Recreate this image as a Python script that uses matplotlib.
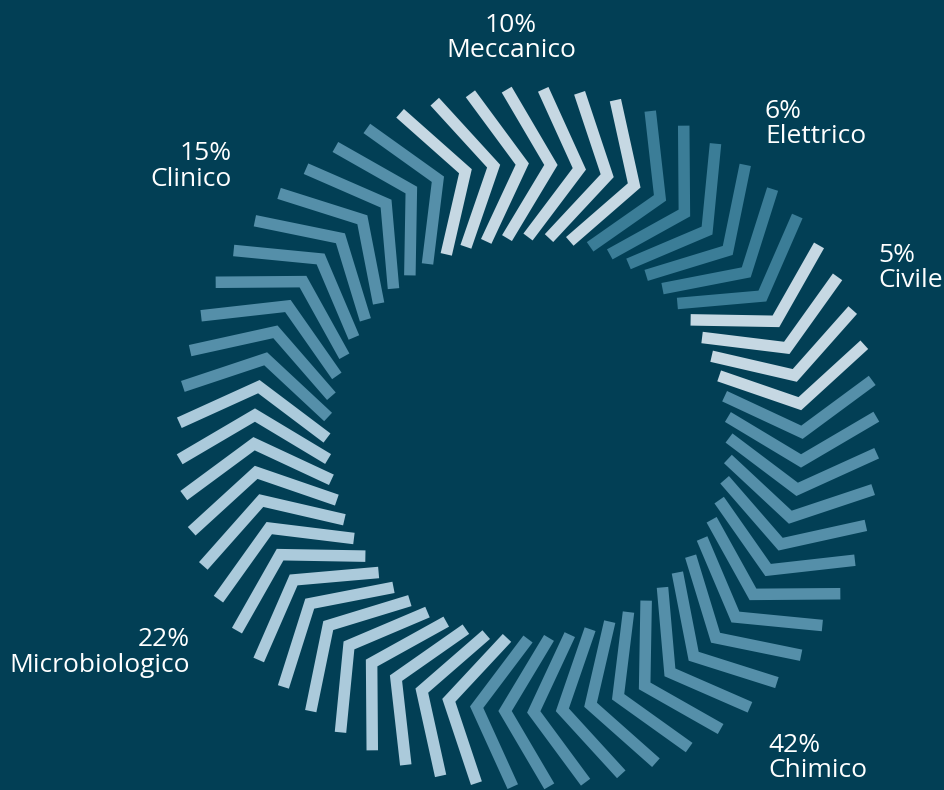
import numpy as np
import matplotlib
matplotlib.use("Agg")
import matplotlib.pyplot as plt
from matplotlib.lines import Line2D

# Sector data
sectors = ["Meccanico", "Elettrico", "Civile", "Chimico", "Microbiologico", "Clinico"]
shares = [10, 6, 5, 42, 22, 15]
chevron_counts = [7, 6, 4, 18, 15, 10]
sector_colors = ["#c6d8e3", "#3b7d97", "#c6d8e3", "#558fa9", "#abcadb", "#558fa9"]

BG = "#023f55"
W, H, DPI = 944, 790, 100
cx, cy = 528, 438  # ring centre in pixels (from top-left)

fig = plt.figure(figsize=(W / DPI, H / DPI), dpi=DPI, facecolor=BG)
ax = fig.add_axes([0, 0, 1, 1])
ax.set_facecolor(BG)
ax.set_xlim(-cx, W - cx)
ax.set_ylim(-(H - cy), cy)
ax.set_aspect("equal")
ax.axis("off")

# Chevron geometry (pixel units)
r_out, r_apex, r_in = 349, 274, 201
start_angle = 111.5          # outer tip of the first chevron, degrees
apex_lag = 8.3               # apex sits clockwise of the outer tip
inner_lead = 2.5             # inner tip sits counter-clockwise of the outer tip
stroke_px = 11.5

step = 360.0 / sum(chevron_counts)
k = 0
for n, col in zip(chevron_counts, sector_colors):
    for _ in range(n):
        a_out = np.deg2rad(start_angle - step * k)
        a_apex = np.deg2rad(start_angle - step * k - apex_lag)
        a_in = np.deg2rad(start_angle - step * k + inner_lead)
        xs = [r_out * np.cos(a_out), r_apex * np.cos(a_apex), r_in * np.cos(a_in)]
        ys = [r_out * np.sin(a_out), r_apex * np.sin(a_apex), r_in * np.sin(a_in)]
        ax.add_line(Line2D(xs, ys, color=col, lw=stroke_px * 72 / DPI,
                           solid_joinstyle="miter", solid_capstyle="butt"))
        k += 1

# Labels: anchor x, baseline of the name line (pixels), alignment
label_x = [511, 765, 878, 768, 190, 232]
label_base = [57, 143, 287, 777, 672, 186]
label_ha = ["center", "left", "left", "left", "right", "right"]
line_gap = 25.5
fs = 19
txt_kw = dict(color="#ffffff", fontsize=fs, family=["Open Sans", "DejaVu Sans"], va="baseline")

for name, pct, x, yb, ha in zip(sectors, shares, label_x, label_base, label_ha):
    ax.text(x - cx, cy - (yb - line_gap), f"{pct}%", ha=ha, **txt_kw)
    ax.text(x - cx, cy - yb, name, ha=ha, **txt_kw)

fig.savefig("out.png", dpi=DPI, facecolor=BG)
